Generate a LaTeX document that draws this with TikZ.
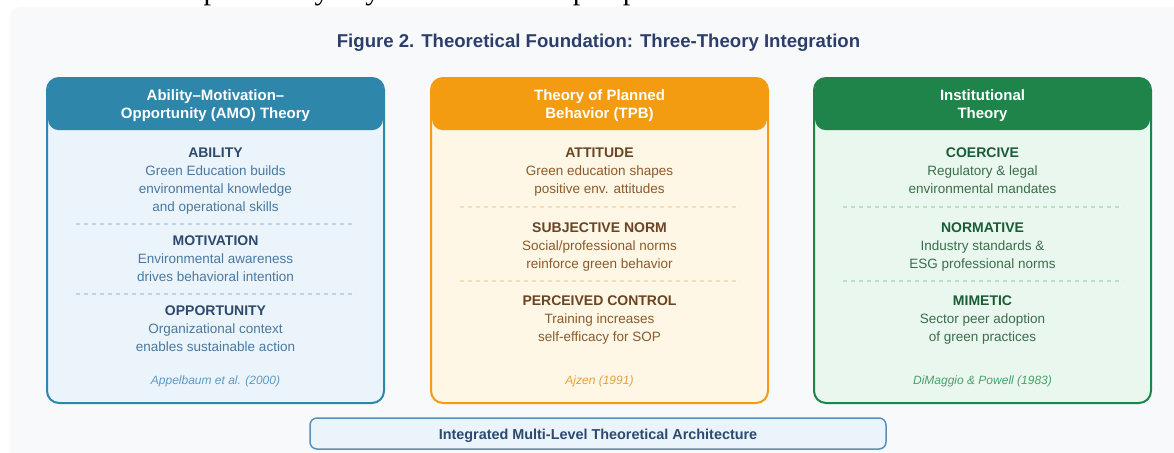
\documentclass[tikz,border=0pt]{standalone}
\usepackage{fontspec}
\setmainfont{Liberation Sans}
\newfontfamily\leadserif{Liberation Serif}

\definecolor{panelbg}{HTML}{F8F9FB}
\definecolor{titleink}{HTML}{2C3E6B}
\definecolor{amo}{HTML}{2E86AB}
\definecolor{amofill}{HTML}{EBF4FB}
\definecolor{amohead}{HTML}{2C4A6E}
\definecolor{amotext}{HTML}{4A78A0}
\definecolor{amocite}{HTML}{5B9BC8}
\definecolor{amodash}{HTML}{B9D5EA}
\definecolor{tpb}{HTML}{F39C12}
\definecolor{tpbfill}{HTML}{FEF7E6}
\definecolor{tpbhead}{HTML}{6B4423}
\definecolor{tpbtext}{HTML}{8B5A2B}
\definecolor{tpbcite}{HTML}{E5A13A}
\definecolor{tpbdash}{HTML}{F5DFB3}
\definecolor{inst}{HTML}{1E8449}
\definecolor{instfill}{HTML}{E9F7EF}
\definecolor{insthead}{HTML}{1A5C36}
\definecolor{insttext}{HTML}{3A6E4C}
\definecolor{instcite}{HTML}{4AA06A}
\definecolor{instdash}{HTML}{B7E2C7}
\definecolor{archline}{HTML}{5B8FB9}

% a column of centred lines, one node per line, baselines #4 apart
\newcommand{\linestack}[6]{%
  \foreach \t [count=\k] in {#6} {
    \node[#5] (#1-\k) at (#2, {#3+#4*(\k-1)}) {\t};
  }}

\tikzset{
  theorybox/.style={rectangle, rounded corners=12pt, minimum width=335pt,
    minimum height=323pt, inner sep=0pt, line width=2pt},
  headband/.style={rectangle, rounded corners=11pt, minimum width=335pt,
    minimum height=52pt, inner sep=0pt, anchor=north},
  bandtext/.style={text=white, anchor=base, font=\bfseries\fontsize{15}{18}\selectfont},
  factor/.style={anchor=base, font=\bfseries\fontsize{14}{17}\selectfont},
  detail/.style={anchor=base, font=\fontsize{13.5}{16}\selectfont},
  source/.style={anchor=base, font=\itshape\fontsize{12}{14}\selectfont},
  divider/.style={dash pattern=on 4pt off 4pt, line width=1.3pt},
}

\begin{document}
\begin{tikzpicture}[x=1pt, y=-1pt]
\useasboundingbox (0,0) rectangle (1174,452);

% tail of the running text above the figure
\begin{scope}
  \clip (0,0) rectangle (1174,8);
  \node[anchor=base east, inner sep=0pt, font=\leadserif\fontsize{30}{36}\selectfont]
    (lead) at (717,0) {environmental behaviour cannot be explained by any one theoretical perspective.};
\end{scope}

% figure panel
\fill[panelbg, rounded corners=10pt] (10,7) rectangle (1190,470);

\node[anchor=base, text=titleink, font=\bfseries\fontsize{18.6}{22}\selectfont]
  (title) at (598.5,47.5) {Figure 2. Theoretical Foundation: Three-Theory Integration};

% ---------- AMO theory ----------
\node[theorybox, fill=amofill] (amo) at (215.5,240.5) {};
\node[headband, fill=amo] (amoband) at (amo.north) {};
\draw[amo, line width=2pt, rounded corners=12pt] (amo.south west) rectangle (amo.north east);
\linestack{amotitle}{215.5}{100.5}{18}{bandtext}{Ability–Motivation–,Opportunity (AMO) Theory}
\node[factor, text=amohead] (ability) at (215.5,157) {ABILITY};
\linestack{abilitytext}{215.5}{175}{18}{detail, text=amotext}{Green Education builds,environmental knowledge,and operational skills}
\draw[divider, amodash] (75.5,224) -- (355.5,224);
\node[factor, text=amohead] (motivation) at (215.5,245) {MOTIVATION};
\linestack{motivationtext}{215.5}{263.5}{18}{detail, text=amotext}{Environmental awareness,drives behavioral intention}
\draw[divider, amodash] (75.5,294) -- (355.5,294);
\node[factor, text=amohead] (opportunity) at (215.5,315) {OPPORTUNITY};
\linestack{opportunitytext}{215.5}{333.5}{18}{detail, text=amotext}{Organizational context,enables sustainable action}
\node[source, text=amocite] (amosource) at (215.5,384) {Appelbaum et al. (2000)};

% ---------- Theory of Planned Behavior ----------
\node[theorybox, fill=tpbfill] (tpb) at (599.5,240.5) {};
\node[headband, fill=tpb] (tpbband) at (tpb.north) {};
\draw[tpb, line width=2pt, rounded corners=12pt] (tpb.south west) rectangle (tpb.north east);
\linestack{tpbtitle}{599.5}{100.5}{18}{bandtext}{Theory of Planned,Behavior (TPB)}
\node[factor, text=tpbhead] (attitude) at (599.5,157) {ATTITUDE};
\linestack{attitudetext}{599.5}{175}{18}{detail, text=tpbtext}{Green education shapes,positive env. attitudes}
\draw[divider, tpbdash] (459.5,207) -- (739.5,207);
\node[factor, text=tpbhead] (norm) at (599.5,232) {SUBJECTIVE NORM};
\linestack{normtext}{599.5}{250.5}{18}{detail, text=tpbtext}{Social/professional norms,reinforce green behavior}
\draw[divider, tpbdash] (459.5,281) -- (739.5,281);
\node[factor, text=tpbhead] (control) at (599.5,305) {PERCEIVED CONTROL};
\linestack{controltext}{599.5}{323.5}{18}{detail, text=tpbtext}{Training increases,self-efficacy for SOP}
\node[source, text=tpbcite] (tpbsource) at (599.5,384) {Ajzen (1991)};

% ---------- Institutional theory ----------
\node[theorybox, fill=instfill] (inst) at (982.5,240.5) {};
\node[headband, fill=inst] (instband) at (inst.north) {};
\draw[inst, line width=2pt, rounded corners=12pt] (inst.south west) rectangle (inst.north east);
\linestack{insttitle}{982.5}{100.5}{18}{bandtext}{Institutional,Theory}
\node[factor, text=insthead] (coercive) at (982.5,157) {COERCIVE};
\linestack{coercivetext}{982.5}{175}{18}{detail, text=insttext}{Regulatory \& legal,environmental mandates}
\draw[divider, instdash] (842.5,207) -- (1122.5,207);
\node[factor, text=insthead] (normative) at (982.5,232) {NORMATIVE};
\linestack{normativetext}{982.5}{250.5}{18}{detail, text=insttext}{Industry standards \&,ESG professional norms}
\draw[divider, instdash] (842.5,281) -- (1122.5,281);
\node[factor, text=insthead] (mimetic) at (982.5,305) {MIMETIC};
\linestack{mimetictext}{982.5}{323.5}{18}{detail, text=insttext}{Sector peer adoption,of green practices}
\node[source, text=instcite] (instsource) at (982.5,384) {DiMaggio \& Powell (1983)};

% ---------- integration bar ----------
\node[rectangle, rounded corners=7pt, draw=archline, line width=1.5pt, fill=amofill,
  minimum width=576pt, minimum height=31pt, inner sep=0pt] (arch) at (598,433.5) {};
\node[anchor=base, text=amohead, font=\bfseries\fontsize{14.4}{17}\selectfont]
  (archtext) at (598,439) {Integrated Multi-Level Theoretical Architecture};
\end{tikzpicture}
\end{document}
